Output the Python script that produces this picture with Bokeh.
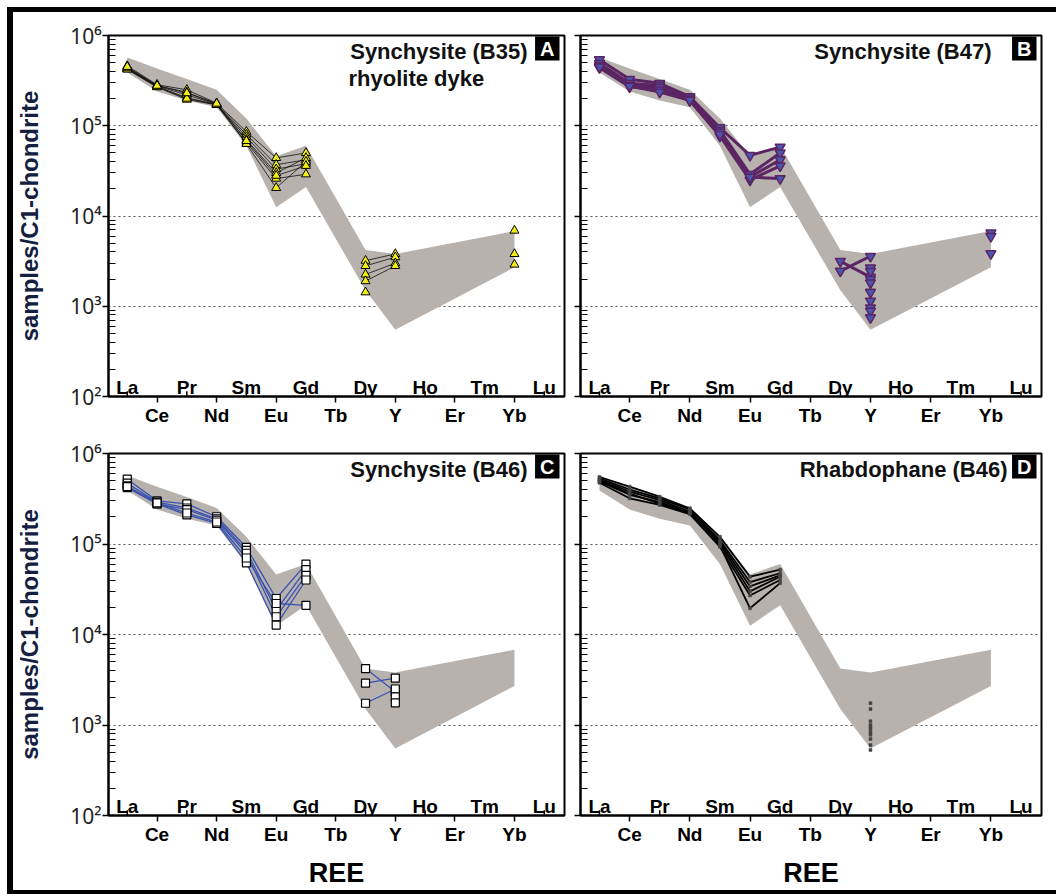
import math
from bokeh.plotting import figure
from bokeh.models import FixedTicker, Label, Div, Spacer
from bokeh.layouts import row, column
from bokeh.core.properties import value
from bokeh.embed import file_html
from bokeh.resources import INLINE

nan = float("nan")

# ---------------- data ----------------
REE = ["La", "Ce", "Pr", "Nd", "Sm", "Eu", "Gd", "Tb", "Dy", "Y", "Ho", "Er", "Tm", "Yb", "Lu"]

# grey reference envelope (same in every panel)
ENV_ELEMENTS = ["La", "Ce", "Pr", "Nd", "Sm", "Eu", "Gd", "Dy", "Y", "Yb"]
ENV_UPPER = [5.7e5, 4.3e5, 3.3e5, 2.5e5, 1.2e5, 4.6e4, 6.0e4, 4.2e3, 3.8e3, 6.8e3]
ENV_LOWER = [3.9e5, 2.4e5, 1.9e5, 1.6e5, 6.0e4, 1.25e4, 2.1e4, 1.5e3, 5.5e2, 2.7e3]

# Panel A: Synchysite (B35) rhyolite dyke
#          La     Ce      Pr      Nd      Sm     Eu      Gd     Tb   Dy     Y      Ho   Er   Tm   Yb     Lu
A_SAMPLES = [
    [4.6e5, 2.85e5, 2.50e5, 1.78e5, 8.6e4, 4.4e4, 5.0e4, nan, 3.2e3, 3.8e3, nan, nan, nan, 6.9e3, nan],
    [4.4e5, 2.80e5, 2.35e5, 1.75e5, 8.0e4, 3.7e4, 4.2e4, nan, 2.8e3, 3.5e3, nan, nan, nan, 3.8e3, nan],
    [4.3e5, 2.75e5, 2.20e5, 1.73e5, 7.5e4, 3.3e4, 3.8e4, nan, 2.25e3, 3.0e3, nan, nan, nan, 2.9e3, nan],
    [4.25e5, 2.70e5, 2.05e5, 1.72e5, 7.0e4, 3.0e4, 4.4e4, nan, 1.9e3, 2.8e3, nan, nan, nan, nan, nan],
    [4.2e5, 2.68e5, 1.95e5, 1.70e5, 6.5e4, 2.6e4, 2.9e4, nan, 1.43e3, nan, nan, nan, nan, nan, nan],
    [4.35e5, 2.72e5, 2.00e5, 1.72e5, 6.3e4, 2.05e4, 4.0e4, nan, nan, nan, nan, nan, nan, nan, nan],
    [4.5e5, 2.78e5, 2.30e5, 1.76e5, 6.8e4, 2.8e4, 3.6e4, nan, nan, nan, nan, nan, nan, nan, nan],
]
A_Y_ONLY = []

# Panel B: Synchysite (B47)
B_SAMPLES = [
    [5.4e5, 3.27e5, 2.95e5, 2.10e5, 9.5e4, 4.7e4, 5.8e4, nan, 3.15e3, 2.1e3, nan, nan, nan, 6.5e3, nan],
    [4.9e5, 2.95e5, 2.80e5, 2.05e5, 8.9e4, 2.9e4, 5.0e4, nan, 2.45e3, 3.58e3, nan, nan, nan, 5.95e3, nan],
    [4.6e5, 2.80e5, 2.66e5, 1.95e5, 8.5e4, 2.7e4, 4.2e4, nan, nan, 2.66e3, nan, nan, nan, 3.84e3, nan],
    [4.4e5, 2.70e5, 2.50e5, 1.90e5, 7.7e4, 2.5e4, 3.6e4, nan, nan, 2.44e3, nan, nan, nan, nan, nan],
    [4.5e5, 2.75e5, 2.36e5, 1.92e5, 8.0e4, 2.7e4, 2.6e4, nan, nan, nan, nan, nan, nan, nan, nan],
]
B_Y_ONLY = [1.98e3, 1.82e3, 1.43e3, 1.14e3, 962, 883, 747]

# Panel C: Synchysite (B46)
C_SAMPLES = [
    [5.2e5, 3.00e5, 2.77e5, 2.00e5, 9.2e4, 2.5e4, 6.0e4, nan, 4.2e3, 2.33e3, nan, nan, nan, nan, nan],
    [4.7e5, 2.90e5, 2.50e5, 1.90e5, 8.5e4, 1.86e4, 5.2e4, nan, 2.9e3, 3.3e3, nan, nan, nan, nan, nan],
    [4.4e5, 2.80e5, 2.40e5, 1.84e5, 7.9e4, 1.57e4, 4.5e4, nan, 1.74e3, 2.5e3, nan, nan, nan, nan, nan],
    [4.2e5, 2.77e5, 2.10e5, 1.69e5, 6.2e4, 1.27e4, 4.0e4, nan, nan, nan, nan, nan, nan, nan, nan],
    [4.3e5, 2.85e5, 2.20e5, 1.75e5, 7.0e4, 2.2e4, 2.1e4, nan, nan, nan, nan, nan, nan, nan, nan],
]
C_Y_ONLY = [2.05e3, 1.76e3]

# Panel D: Rhabdophane (B46)
D_SAMPLES = [
    [5.5e5, 4.3e5, 3.33e5, 2.48e5, 1.20e5, 4.35e4, 5.2e4, nan, nan, nan, nan, nan, nan, nan, nan],
    [5.3e5, 4.0e5, 3.20e5, 2.40e5, 1.10e5, 3.8e4, 4.75e4, nan, nan, nan, nan, nan, nan, nan, nan],
    [5.1e5, 3.8e5, 3.06e5, 2.27e5, 1.05e5, 3.4e4, 4.5e4, nan, nan, nan, nan, nan, nan, nan, nan],
    [4.9e5, 3.5e5, 2.90e5, 2.20e5, 1.00e5, 3.0e4, 4.35e4, nan, nan, nan, nan, nan, nan, nan, nan],
    [4.75e5, 3.2e5, 2.70e5, 2.14e5, 9.3e4, 2.7e4, 4.0e4, nan, nan, nan, nan, nan, nan, nan, nan],
    [5.0e5, 3.6e5, 2.80e5, 2.20e5, 9.6e4, 1.95e4, 3.7e4, nan, nan, nan, nan, nan, nan, nan, nan],
]
D_Y_ONLY = [1.74e3, 1.5e3, 1.1e3, 1.0e3, 950, 900, 830, 780, 700, 600, 530]

Y_MAJOR = [1e2, 1e3, 1e4, 1e5, 1e6]
Y_LABELS = ["10²", "10³", "10⁴", "10⁵", "10⁶"]

# ---------------- styling ----------------
X_START, X_END = -0.63, 14.68
FONT = "Liberation Sans"
TICK_FONT = "Noto Sans"


def make_panel(samples, y_only, title, letter, title_dx, style, left, bottom,
               width, height, extra_title=None):
    p = figure(width=width, height=height, output_backend="svg", toolbar_location=None,
               y_axis_type="log", x_range=(X_START, X_END), y_range=(1e2, 1e6),
               min_border_left=89 if left else 8, min_border_right=8 if left else 15,
               min_border_top=23, min_border_bottom=75 if bottom else 34,
               background_fill_color="white", border_fill_color="white")
    p.outline_line_color = "black"
    p.outline_line_width = 2
    p.xgrid.visible = False

    # y axis
    minor = [m * 10 ** e for e in range(2, 6) for m in range(2, 10)]
    p.yaxis.ticker = FixedTicker(ticks=Y_MAJOR, minor_ticks=minor)
    p.yaxis.axis_line_width = 2
    p.yaxis.major_tick_out = 6
    p.yaxis.major_tick_in = 0
    p.yaxis.major_tick_line_width = 1.5
    p.yaxis.minor_tick_in = 7
    p.yaxis.minor_tick_out = 0
    p.yaxis.minor_tick_line_width = 1.2
    p.ygrid.grid_line_color = "#555555"
    p.ygrid.grid_line_dash = "2 3"
    p.ygrid.grid_line_width = 1.2
    if left:
        p.yaxis.major_label_overrides = {v: t for v, t in zip(Y_MAJOR, Y_LABELS)}
        p.yaxis.major_label_text_font = TICK_FONT
        p.yaxis.major_label_text_font_size = "21px"
        p.yaxis.major_label_text_color = "#222222"
        p.yaxis.major_label_standoff = 1
        p.yaxis.axis_label = "samples/C1-chondrite"
        p.yaxis.axis_label_text_font = FONT
        p.yaxis.axis_label_text_font_style = "bold"
        p.yaxis.axis_label_text_font_size = "24px"
        p.yaxis.axis_label_text_color = "#13203f"
        p.yaxis.axis_label_standoff = 24
    else:
        p.yaxis.major_label_text_font_size = "1px"
        p.yaxis.major_label_text_alpha = 0
        p.yaxis.major_label_standoff = 0

    # x axis: outer ticks/labels on odd positions
    idx = list(range(len(REE)))
    odd = [i for i in idx if i % 2 == 1]
    even = [i for i in idx if i % 2 == 0]
    p.xaxis.ticker = FixedTicker(ticks=odd, minor_ticks=[])
    p.xaxis.major_label_overrides = {i: REE[i] for i in odd}
    p.xaxis.axis_line_width = 2
    p.xaxis.major_tick_out = 6
    p.xaxis.major_tick_in = 0
    p.xaxis.major_tick_line_width = 1.5
    p.xaxis.major_label_standoff = 2
    p.xaxis.major_label_text_font = FONT
    p.xaxis.major_label_text_font_style = "bold"
    p.xaxis.major_label_text_font_size = "19px"
    p.xaxis.major_label_text_color = "black"
    if bottom:
        p.xaxis.axis_label = "REE"
        p.xaxis.axis_label_text_font = FONT
        p.xaxis.axis_label_text_font_style = "bold"
        p.xaxis.axis_label_text_font_size = "27px"
        p.xaxis.axis_label_text_color = "black"
        p.xaxis.axis_label_standoff = 10

    # inner ticks and labels on even positions
    p.segment(x0=even, y0=[1e2] * len(even), x1=even, y1=[1e2 * 1.14] * len(even),
              line_color="black", line_width=1.5)
    p.text(x=even, y=[1e2] * len(even), text=[REE[i] for i in even],
           text_font=value(FONT), text_font_style="bold", text_font_size="19px",
           text_align="center", text_baseline="alphabetic", y_offset=-9, text_color="black")

    # envelope
    ex = [REE.index(e) for e in ENV_ELEMENTS]
    p.patch(x=ex + ex[::-1], y=ENV_UPPER + ENV_LOWER[::-1],
            fill_color="#b7b2ae", line_color=None)

    # samples
    for s in samples:
        p.line(x=idx, y=s, line_color=style["line"], line_width=style["lw"])
    for s in samples:
        p.scatter(x=idx, y=s, marker=style["marker"], size=style["size"],
                  fill_color=style["fill"], line_color=style["edge"], line_width=style["elw"])
    if y_only:
        p.scatter(x=[REE.index("Y")] * len(y_only), y=y_only, marker=style["marker"],
                  size=style["size"], fill_color=style["fill"], line_color=style["edge"],
                  line_width=style["elw"])

    # titles
    p.add_layout(Label(x=X_END, y=1e6, text=title, text_align="right", text_baseline="middle",
                       x_offset=title_dx, y_offset=-16, text_font=FONT, text_font_style="bold",
                       text_font_size="22px", text_color="#111111"))
    if extra_title:
        p.add_layout(Label(x=X_END, y=1e6, text=extra_title, text_align="left",
                           text_baseline="middle", x_offset=-216, y_offset=-43, text_font=FONT,
                           text_font_style="bold", text_font_size="22px", text_color="#111111"))
    p.add_layout(Label(x=X_END, y=1e6, text=letter, text_align="right", text_baseline="top",
                       x_offset=-5, y_offset=-1, text_font=FONT, text_font_style="bold",
                       text_font_size="20px", text_color="white",
                       background_fill_color="black", padding=(5, 1)))
    return p


STYLE_A = dict(line="#111111", lw=0.8, marker="triangle", size=9, fill="#f0ee14", edge="black", elw=1)
STYLE_B = dict(line="#5b2462", lw=3, marker="inverted_triangle", size=10, fill="#4b55b0", edge="#5b2462", elw=1.5)
STYLE_C = dict(line="#3a52b0", lw=1.3, marker="square", size=8, fill="white", edge="black", elw=1.2)
STYLE_D = dict(line="black", lw=1.8, marker="square", size=3, fill="#444444", edge="#444444", elw=0.5)

pA = make_panel(A_SAMPLES, A_Y_ONLY, "Synchysite (B35)", "A", -37, STYLE_A, True, False, 559, 418,
                extra_title="rhyolite dyke")
pB = make_panel(B_SAMPLES, B_Y_ONLY, "Synchysite (B47)", "B", -50, STYLE_B, False, False, 484, 418)
pC = make_panel(C_SAMPLES, C_Y_ONLY, "Synchysite (B46)", "C", -37, STYLE_C, True, True, 559, 460)
pD = make_panel(D_SAMPLES, D_Y_ONLY, "Rhabdophane (B46)", "D", -34, STYLE_D, False, True, 484, 460)


def bar(w, h):
    return Div(width=w, height=h, margin=0, styles={"background-color": "black"})


grid = column(row(pA, pB), row(pC, pD))
layout = column(
    Spacer(width=1056, height=7, margin=0),
    row(Spacer(width=7, height=5, margin=0), bar(1049, 5)),
    row(Spacer(width=7, height=878, margin=0), bar(6, 878), grid),
    row(Spacer(width=7, height=4, margin=0), bar(1049, 4)),
)

open("out.html", "w").write(file_html(layout, INLINE))
